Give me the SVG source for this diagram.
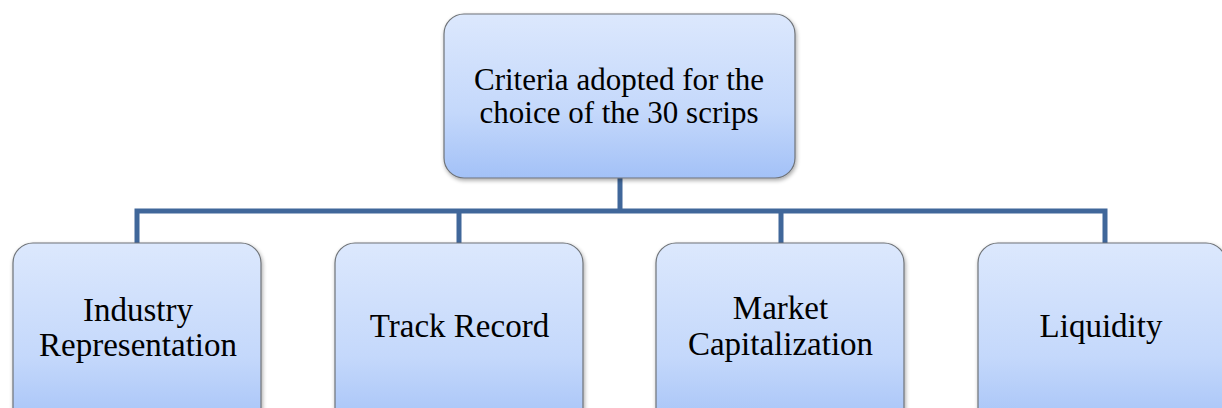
<svg xmlns="http://www.w3.org/2000/svg" width="1222" height="408" viewBox="0 0 1222 408">
<defs>
<linearGradient id="g" x1="0" y1="0" x2="0" y2="1">
<stop offset="0" stop-color="#dce8fd"/>
<stop offset="0.6" stop-color="#c4d8fb"/>
<stop offset="1" stop-color="#a3c1f7"/>
</linearGradient>
<filter id="sh" x="-10%" y="-10%" width="120%" height="120%">
<feGaussianBlur in="SourceAlpha" stdDeviation="2"/>
<feOffset dx="1" dy="2"/>
<feComponentTransfer><feFuncA type="linear" slope="0.35"/></feComponentTransfer>
<feMerge><feMergeNode/><feMergeNode in="SourceGraphic"/></feMerge>
</filter>
</defs>
<style>
.box{fill:url(#g);stroke:#6f7378;stroke-width:1.2;filter:url(#sh)}
.t{font-family:"Liberation Serif","Times New Roman",serif;font-size:33px;fill:#000;text-anchor:middle}
.tt{font-size:31px}
.c{fill:none;stroke:#40679a;stroke-width:5}
</style>
<rect width="1222" height="408" fill="#fff"/>
<g id="connectors">
<path class="c" d="M620 178V211M137 243V211H1105V243M459 211V243M781 211V243"/>
</g>
<g id="root">
<rect class="box" x="444" y="14" width="351" height="164" rx="20"/>
<text class="t tt" x="619" y="90">Criteria adopted for the</text>
<text class="t tt" x="619" y="123">choice of the 30 scrips</text>
</g>
<g id="industry">
<rect class="box" x="13" y="243" width="248" height="190" rx="20"/>
<text class="t" x="138" y="321">Industry</text>
<text class="t" x="138" y="356">Representation</text>
</g>
<g id="track">
<rect class="box" x="335" y="243" width="248" height="190" rx="20"/>
<text class="t" x="459.5" y="337">Track Record</text>
</g>
<g id="market">
<rect class="box" x="656" y="243" width="248" height="190" rx="20"/>
<text class="t" x="780.5" y="319">Market</text>
<text class="t" x="780.5" y="355">Capitalization</text>
</g>
<g id="liquidity">
<rect class="box" x="978" y="243" width="248" height="190" rx="20"/>
<text class="t" x="1101" y="337">Liquidity</text>
</g>
</svg>
